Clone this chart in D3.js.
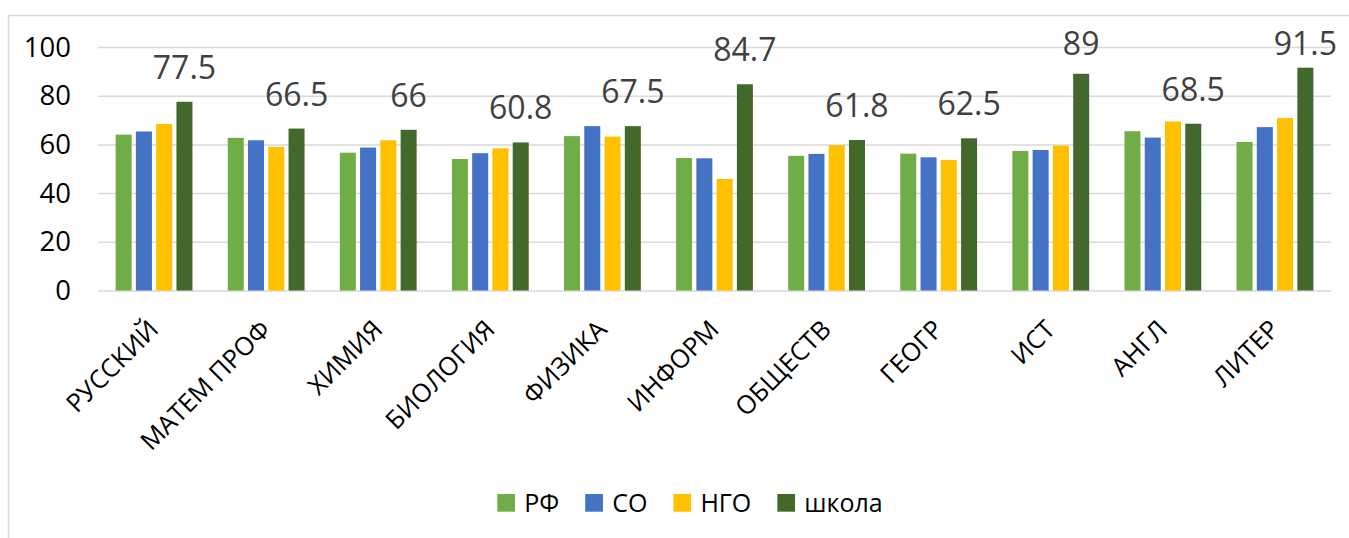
<!DOCTYPE html>
<html>
<head>
<meta charset="utf-8">
<script src="https://cdn.jsdelivr.net/npm/d3@7"></script>
<style>
  body { margin: 0; background: #fff; }
  text { font-family: "Open Sans", sans-serif; }
</style>
</head>
<body>
<script>
// data
const subjects = ["РУССКИЙ", "МАТЕМ ПРОФ", "ХИМИЯ", "БИОЛОГИЯ", "ФИЗИКА", "ИНФОРМ",
                  "ОБЩЕСТВ", "ГЕОГР", "ИСТ", "АНГЛ", "ЛИТЕР"];
const seriesNames = ["РФ", "СО", "НГО", "школа"];
const rf    = [64, 62.7, 56.6, 54, 63.4, 54.4, 55.3, 56.2, 57.3, 65.4, 61];
const so    = [65.3, 61.7, 58.7, 56.4, 67.5, 54.3, 56.1, 54.7, 57.7, 62.8, 67.1];
const ngo   = [68.4, 59, 61.7, 58.4, 63.2, 45.8, 59.7, 53.6, 59.5, 69.4, 70.8];
const school = [77.5, 66.5, 66, 60.8, 67.5, 84.7, 61.8, 62.5, 89, 68.5, 91.5];
const yTicks = [0, 20, 40, 60, 80, 100];
const colors = ["#70AD47", "#4472C4", "#FFC000", "#43682B"];

const W = 1349, H = 538;
const plot = {left: 98, right: 1331, top: 47, bottom: 290.5};

const svg = d3.select("body").append("svg")
  .attr("width", W).attr("height", H);

// chart frame
svg.append("rect")
  .attr("x", 8.5).attr("y", 15.5)
  .attr("width", W + 20).attr("height", H + 20)
  .attr("fill", "#fff").attr("stroke", "#d9d9d9").attr("stroke-width", 1.5);

const values = [rf, so, ngo, school];
const rows = subjects.map((s, i) => ({
  subject: s,
  vals: seriesNames.map((n, k) => ({name: n, k: k, v: values[k][i]}))
}));

const x0 = d3.scaleBand().domain(subjects).range([plot.left, plot.right]);
const x1 = d3.scaleBand().domain(seriesNames).range([0, x0.bandwidth()])
  .paddingInner(0.21).paddingOuter(0.87);
const y = d3.scaleLinear().domain([0, 100]).range([plot.bottom, plot.top]);

// gridlines
const yaxis = d3.axisLeft(y).tickValues(yTicks).tickSize(-(plot.right - plot.left)).tickPadding(27);
const g_yaxis = svg.append("g")
  .attr("transform", `translate(${plot.left},0)`)
  .call(yaxis);
g_yaxis.select(".domain").remove();
g_yaxis.selectAll(".tick line").attr("stroke", "#d9d9d9").attr("stroke-width", 1.5);
g_yaxis.selectAll(".tick text")
  .attr("fill", "#000").attr("font-size", 27.5).attr("dy", "0.33em")
  .style("font-family", "'Open Sans', sans-serif");

// bars
const groups = svg.selectAll("g.cat").data(rows).join("g")
  .attr("class", "cat")
  .attr("transform", d => `translate(${x0(d.subject)},0)`);

groups.selectAll("rect").data(d => d.vals).join("rect")
  .attr("x", d => x1(d.name))
  .attr("width", x1.bandwidth())
  .attr("y", d => y(d.v))
  .attr("height", d => y(0) - y(d.v))
  .attr("fill", d => colors[d.k]);

// labels on the school series only
groups.append("text")
  .attr("x", x1("школа") + x1.bandwidth() / 2)
  .attr("y", d => Math.max(y(d.vals[3].v) - 23, 55))
  .attr("text-anchor", "middle")
  .attr("font-size", 32)
  .attr("fill", "#404040")
  .text(d => d.vals[3].v);

// category labels
svg.append("g").selectAll("text").data(subjects).join("text")
  .attr("transform", d => `translate(${x0(d) + x0.bandwidth() / 2 + 6},331) rotate(-45)`)
  .attr("text-anchor", "end")
  .attr("font-size", 25.5)
  .attr("fill", "#000")
  .text(d => d);

// legend
const legend = svg.append("g");
let lx = 0;
seriesNames.forEach((n, k) => {
  legend.append("rect")
    .attr("x", lx).attr("y", 494)
    .attr("width", 17.7).attr("height", 17.7)
    .attr("fill", colors[k]);
  const t = legend.append("text")
    .attr("x", lx + 27).attr("y", 511.5)
    .attr("font-size", 25).attr("fill", "#000")
    .text(n);
  lx += 27 + t.node().getComputedTextLength() + 26;
});
const lw = lx - 26;
legend.attr("transform", `translate(${690 - lw / 2},0)`);
</script>
</body>
</html>
